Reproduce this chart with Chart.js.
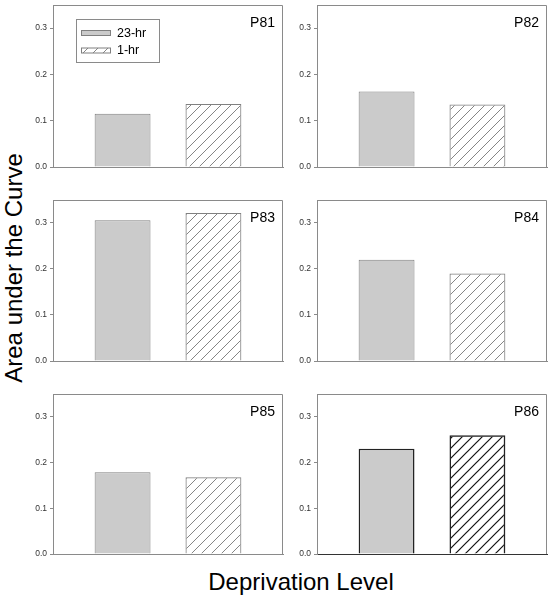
<!DOCTYPE html>
<html>
<head>
<meta charset="utf-8">
<script src="https://cdn.jsdelivr.net/npm/chart.js@4/dist/chart.umd.min.js"></script>
<style>
  body { margin: 0; background: #fff; }
  #wrap { position: relative; width: 555px; height: 600px; font-family: Arial, "Liberation Sans", sans-serif; }
  #wrap canvas { position: absolute; }
  .titulo { position: absolute; font-size: 24px; line-height: 24px; color: #000; white-space: nowrap; }
</style>
</head>
<body>
<div id="wrap">
  <div class="titulo" style="left:14px; top:268px; transform: translate(-50%, -50%) rotate(-90deg);">Area under the Curve</div>
  <div class="titulo" style="left:301px; top:570px; transform: translateX(-50%);">Deprivation Level</div>
</div>
<script>
// dados
const panels = ['P81', 'P82', 'P83', 'P84', 'P85', 'P86'];
const seriesNames = ['23-hr', '1-hr'];
const groupLabel = ['Deprivation Level'];
const hr23 = [0.115, 0.163, 0.306, 0.220, 0.179, 0.230];
const hr1 = [0.136, 0.135, 0.322, 0.190, 0.168, 0.260];
const yMax = 0.35;

// posição de cada painel (área do gráfico)
const colLeft = [53, 317];
const rowTop = [5, 200, 394];
const rowHeight = [162, 161, 160];
const plotWidth = 230;
const axisWidth = 30;

const wrap = document.getElementById('wrap');

// padrão hachurado "/"
function hatch(ctx, color, lw) {
  const c = document.createElement('canvas');
  c.width = 10;
  c.height = 10;
  const g = c.getContext('2d');
  g.strokeStyle = color;
  g.lineWidth = lw;
  g.beginPath();
  g.moveTo(-1, 11); g.lineTo(11, -1);
  g.moveTo(-6, 6); g.lineTo(6, -6);
  g.moveTo(4, 16); g.lineTo(16, 4);
  g.stroke();
  return ctx.createPattern(c, 'repeat');
}

// moldura, rótulo do painel e legenda
const panelDecor = {
  id: 'panelDecor',
  afterDraw(chart, args, opts) {
    const { ctx, chartArea: a } = chart;
    ctx.save();
    ctx.strokeStyle = '#8a8a8a';
    ctx.lineWidth = 1;
    ctx.beginPath();
    ctx.moveTo(a.left, a.top + 0.5);
    ctx.lineTo(a.right - 0.5, a.top + 0.5);
    ctx.lineTo(a.right - 0.5, a.bottom);
    ctx.stroke();

    ctx.fillStyle = '#000';
    ctx.font = '14px Arial, "Liberation Sans", sans-serif';
    ctx.textAlign = 'right';
    ctx.textBaseline = 'alphabetic';
    ctx.fillText(opts.label, a.right - 8, a.top + 22);

    if (opts.legend) {
      const x = a.left + 23, y = a.top + 14;
      ctx.strokeStyle = '#8a8a8a';
      ctx.strokeRect(x + 0.5, y + 0.5, 83, 43);
      const rows = [y + 14, y + 31.5];
      chart.data.datasets.forEach((ds, i) => {
        ctx.fillStyle = ds.backgroundColor;
        ctx.fillRect(x + 5, rows[i] - 2.5, 30, 5);
        ctx.strokeStyle = ds.borderColor;
        ctx.strokeRect(x + 5.5, rows[i] - 2.5, 29, 5);
        ctx.fillStyle = '#000';
        ctx.font = '12.5px Arial, "Liberation Sans", sans-serif';
        ctx.textAlign = 'left';
        ctx.textBaseline = 'middle';
        ctx.fillText(ds.label, x + 41, rows[i] + 0.5);
      });
    }
    ctx.restore();
  }
};

function createPanel(i) {
  const col = i % 2, row = Math.floor(i / 2);
  const dark = i === 5;
  const edge = dark ? '#222' : '#808080';

  const canvas = document.createElement('canvas');
  canvas.style.left = (colLeft[col] - axisWidth) + 'px';
  canvas.style.top = (rowTop[row] - 2) + 'px';
  canvas.width = axisWidth + plotWidth + 2;
  canvas.height = rowHeight[row] + 4;
  canvas.style.width = canvas.width + 'px';
  canvas.style.height = canvas.height + 'px';
  wrap.appendChild(canvas);
  const ctx = canvas.getContext('2d');

  new Chart(ctx, {
    type: 'bar',
    data: {
      labels: groupLabel,
      datasets: [{
        label: seriesNames[0],
        data: [hr23[i]],
        backgroundColor: '#cbcbcb',
        borderColor: edge,
        borderWidth: dark ? 1.5 : 1,
      }, {
        label: seriesNames[1],
        data: [hr1[i]],
        backgroundColor: hatch(ctx, dark ? '#111' : '#777', dark ? 1.2 : 0.9),
        borderColor: edge,
        borderWidth: dark ? 1.5 : 1,
      }],
    },
    options: {
      responsive: false,
      animation: false,
      events: [],
      layout: { padding: { top: 2, right: 2, bottom: 2, left: 0 } },
      categoryPercentage: 0.79,
      barPercentage: 0.615,
      plugins: {
        legend: { display: false },
        tooltip: { enabled: false },
        panelDecor: { label: panels[i], legend: i === 0 },
      },
      scales: {
        x: {
          ticks: { display: false },
          grid: { display: false },
          border: { display: true, color: dark ? '#333' : '#8a8a8a', width: 1 },
          afterFit: s => { s.height = 0; s.paddingLeft = 0; s.paddingRight = 0; },
        },
        y: {
          min: 0,
          max: yMax,
          ticks: {
            stepSize: 0.1,
            includeBounds: false,
            padding: 3,
            color: '#333',
            font: { size: 8.5, family: 'Arial, "Liberation Sans", sans-serif' },
            callback: v => v.toFixed(1),
          },
          grid: { drawOnChartArea: false, tickLength: 3, color: '#8a8a8a' },
          border: { color: '#8a8a8a', width: 1 },
          afterFit: s => { s.width = axisWidth; s.paddingTop = 0; s.paddingBottom = 0; },
        },
      },
    },
    plugins: [panelDecor],
  });
}

panels.forEach((p, i) => createPanel(i));
</script>
</body>
</html>
